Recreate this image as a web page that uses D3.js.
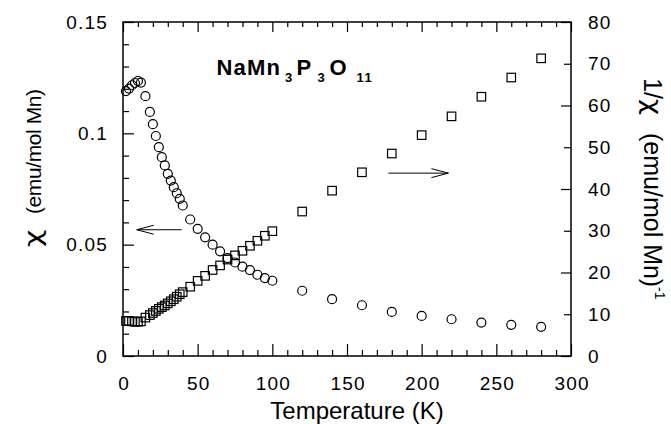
<!DOCTYPE html>
<html><head><meta charset="utf-8">
<script src="https://cdn.jsdelivr.net/npm/d3@7"></script>
<style>body{margin:0;background:#fff}svg{display:block}text{font-family:"Liberation Sans",Arial,sans-serif;fill:#000}</style>
</head><body><svg id="c" width="671" height="424"></svg>
<script>
// chi (emu/mol Mn), left axis
const chiT = [2,4,6,8,10,12,15,18,20,22,24,26,28,30,32,34,36,38,40,45,50,55,60,65,70,75,80,85,90,95,100,120,140,160,180,200,220,240,260,280];
const chiV = [0.1190,0.1201,0.1216,0.1226,0.1235,0.1228,0.1167,0.1096,0.1041,0.0988,0.0938,0.0893,0.0856,0.0818,0.0788,0.0758,0.0731,0.0706,0.0676,0.0613,0.0571,0.0533,0.0500,0.0470,0.0440,0.0420,0.0401,0.0386,0.0365,0.0350,0.0338,0.0293,0.0255,0.0228,0.0198,0.0180,0.0165,0.0150,0.0140,0.0131];
// 1/chi (emu/mol Mn)^-1, right axis
const invT = [2,4,6,8,10,12,15,18,20,22,24,26,28,30,32,34,36,38,40,45,50,55,60,65,70,75,80,85,90,95,100,120,140,160,180,200,220,240,260,280];
const invV = [8.4,8.4,8.3,8.2,8.2,8.3,9.2,9.8,10.3,10.8,11.3,11.7,12.1,12.6,13.1,13.6,14.2,14.8,15.3,16.6,18.0,19.2,20.6,21.7,23.1,24.1,25.2,26.4,27.6,28.8,29.9,34.6,39.6,44.0,48.5,52.9,57.4,62.1,66.7,71.3];
const xMajor = [0,50,100,150,200,250,300];
const yLMajor = [0,0.05,0.1,0.15];
const yLLabels = ["0","0.05","0.1","0.15"];
const yRMajor = [0,10,20,30,40,50,60,70,80];

const svg = d3.select("#c");
const L=123,R=571,T=22,B=356;
const x = d3.scaleLinear().domain([0,300]).range([L,R]);
const yL = d3.scaleLinear().domain([0,0.15]).range([B,T]);
const yR = d3.scaleLinear().domain([0,80]).range([B,T]);

function style(g){g.select(".domain").remove();g.selectAll("line").attr("stroke","#000").attr("stroke-width",1.2);
  g.selectAll("text").style("font-size","19px").style("letter-spacing","1.2px").attr("fill","#000");}

// minor ticks
const xMinor = d3.range(0,301,10).filter(v=>v%50!==0);
svg.append("g").attr("transform",`translate(0,${B})`).call(d3.axisBottom(x).tickValues(xMinor).tickSize(-6).tickFormat("")).call(style);
svg.append("g").attr("transform",`translate(0,${T})`).call(d3.axisTop(x).tickValues(xMinor).tickSize(-5).tickFormat("")).call(style);
svg.append("g").attr("transform",`translate(0,${T})`).call(d3.axisTop(x).tickValues(xMajor).tickSize(-10).tickFormat("")).call(style);
svg.append("g").attr("transform",`translate(0,${B})`).call(d3.axisBottom(x).tickValues(xMajor).tickSize(-12).tickPadding(21).tickFormat(d3.format("d"))).call(style)
  .selectAll("text").attr("dx","0.6px");
const yLMinor = d3.range(1,15).filter(v=>v%5!==0).map(v=>v/100);
svg.append("g").attr("transform",`translate(${L},0)`).call(d3.axisLeft(yL).tickValues(yLMinor).tickSize(-6).tickFormat("")).call(style);
svg.append("g").attr("transform",`translate(${L},0)`).call(d3.axisLeft(yL).tickValues(yLMajor).tickSize(-11).tickPadding(15).tickFormat((d,i)=>yLLabels[i])).call(style);
svg.append("g").attr("transform",`translate(${R},0)`).call(d3.axisRight(yR).tickValues(yRMajor).tickSize(0).tickPadding(17).tickFormat(d3.format("d"))).call(style)
  .selectAll(".tick line").attr("x2",d=>d%20===0?-10:-7);

svg.append("rect").attr("x",L).attr("y",T).attr("width",R-L).attr("height",B-T).attr("fill","none").attr("stroke","#000").attr("stroke-width",1.5);

// data
svg.append("g").selectAll("circle").data(chiT.map((t,i)=>[t,chiV[i]])).join("circle")
  .attr("cx",d=>x(d[0])).attr("cy",d=>yL(d[1])).attr("r",4.5).attr("fill","none").attr("stroke","#000").attr("stroke-width",1.2);
const s=8.5;
svg.append("g").selectAll("rect").data(invT.map((t,i)=>[t,invV[i]])).join("rect")
  .attr("x",d=>x(d[0])-s/2).attr("y",d=>yR(d[1])-s/2).attr("width",s).attr("height",s).attr("fill","none").attr("stroke","#000").attr("stroke-width",1.2);

// arrows
function arrow(x1,x2,y,dir){
  svg.append("line").attr("x1",x1).attr("x2",x2).attr("y1",y).attr("y2",y).attr("stroke","#000").attr("stroke-width",1);
  svg.append("path").attr("d",`M${x2-dir*17},${y-4.5}L${x2},${y}L${x2-dir*17},${y+4.5}`).attr("fill","none").attr("stroke","#000").attr("stroke-width",1);
}
arrow(x(39.3),x(9.2),yL(0.0567),-1);
arrow(x(177.7),x(217.9),yR(43.8),1);

// title NaMn3P3O11
const tg = svg.append("g").attr("transform","translate(216.5,74.5)");
[["NaMn",0,0],["3",68.5,1],["P",80,0],["3",101,1],["O",113,0],["11",140,1]].forEach(([t,dx,sub])=>{
  tg.append("text").attr("x",dx).attr("y",sub?7.5:0).style("font-size",sub?"13px":"22px").style("font-weight","bold")
    .style("letter-spacing",sub?"1.5px":"1.2px").text(t);
});

// axis titles
svg.append("text").attr("x",357).attr("y",419).attr("text-anchor","middle").style("font-size","24px").text("Temperature (K)");
const lg = svg.append("g").attr("transform","translate(41,247) rotate(-90)");
lg.append("text").attr("transform","scale(1.3,1)").style("font-family","'DejaVu Sans'").style("font-size","23px").text("\u03c7");
lg.append("text").attr("x",33).style("font-size","21px").style("letter-spacing","-0.4px").text("(emu/mol Mn)");
const rg = svg.append("g").attr("transform","translate(644,78) rotate(90)");
rg.append("text").style("font-size","25px").text("1/");
rg.append("text").attr("transform","translate(21,0) scale(1.15,1)").style("font-family","'DejaVu Sans'").style("font-size","24px").text("\u03c7");
rg.append("text").attr("x",55).style("font-size","25px").text("(emu/mol Mn)");
rg.append("text").attr("x",209).attr("y",-11).style("font-size","14px").text("-1");
</script></body></html>
